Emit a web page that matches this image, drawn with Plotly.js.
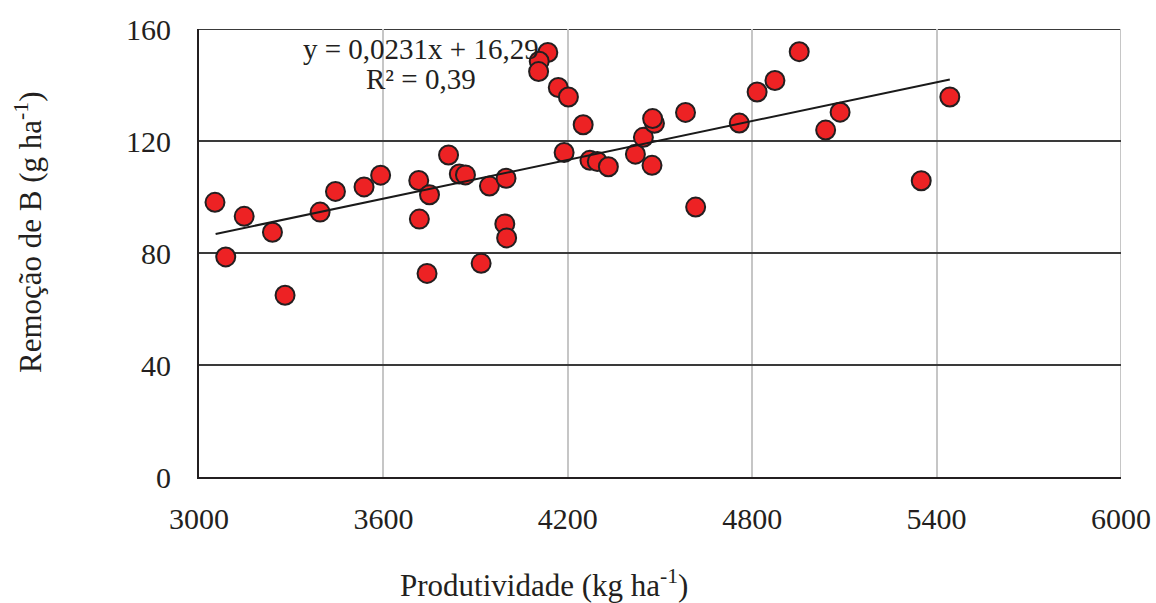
<!DOCTYPE html>
<html>
<head>
<meta charset="utf-8">
<script src="https://cdn.plot.ly/plotly-3.0.1.min.js"></script>
<style>html,body{margin:0;padding:0;background:#fff;}#chart{width:1156px;height:603px;}</style>
</head>
<body>
<div id="chart"></div>
<script>
// Observed data (Produtividade kg/ha vs Remoção de B g/ha)
const produtividade = [3052, 3087, 3147, 3239, 3280, 3394, 3444, 3537, 3591, 3715,
  3750, 3717, 3742, 3812, 3847, 3867, 3945, 3918, 3999, 3995,
  4001, 4135, 4107, 4105, 4169, 4202, 4250, 4188, 4272, 4296,
  4332, 4420, 4446, 4482, 4476, 4474, 4616, 4583, 4758, 4816,
  4874, 4953, 5086, 5039, 5350, 5443];
const remocaoB = [98.1, 78.6, 93.1, 87.4, 64.9, 94.6, 102.0, 103.6, 107.8, 105.9,
  100.8, 92.1, 72.7, 115.0, 108.2, 107.9, 103.9, 76.3, 106.7, 90.4,
  85.4, 151.6, 148.5, 144.8, 139.1, 135.7, 125.8, 115.9, 113.1, 112.7,
  110.8, 115.3, 121.3, 126.3, 128.0, 111.3, 96.4, 130.2, 126.4, 137.5,
  141.6, 151.9, 130.3, 123.9, 105.8, 135.7];
// Linear trend endpoints (y = 0,0231x + 16,29)
const trendX = [3054, 5443];
const trendY = [86.8, 142.0];
const xTicks = [3000, 3600, 4200, 4800, 5400, 6000];
const yTicks = [0, 40, 80, 120, 160];
const eqText = "y = 0,0231x + 16,29";
const r2Text = "R² = 0,39";
const xTitle = "Produtividade (kg ha<sup>-1</sup>)";
const yTitle = "Remoção de B (g ha<sup>-1</sup>)";

const FONT = "Liberation Serif, Times New Roman, serif";
const INK = '#231F20';

const traces = [
  {
    x: produtividade, y: remocaoB, type: 'scatter', mode: 'markers',
    marker: {size: 19, color: '#ED2224', line: {color: INK, width: 2}},
    hoverinfo: 'x+y', showlegend: false
  },
  {
    x: trendX, y: trendY, type: 'scatter', mode: 'lines',
    line: {color: '#1a1a1a', width: 2}, hoverinfo: 'skip', showlegend: false
  }
];

const layout = {
  width: 1156, height: 603,
  margin: {l: 199, r: 35, t: 29, b: 126},
  paper_bgcolor: '#fff', plot_bgcolor: '#fff',
  font: {family: FONT, size: 28, color: INK},
  xaxis: {
    range: [3000, 6000], tickvals: xTicks, ticktext: xTicks.map(String),
    showgrid: true, gridcolor: '#C6C6C6', gridwidth: 2,
    showline: true, linecolor: INK, linewidth: 2,
    zeroline: false, ticks: 'outside', ticklen: 14, tickcolor: 'rgba(0,0,0,0)',
    tickfont: {family: FONT, size: 30, color: INK}, fixedrange: true
  },
  yaxis: {
    range: [0, 160], tickvals: yTicks, ticktext: yTicks.map(String),
    showgrid: true, gridcolor: '#3A3A3A', gridwidth: 2,
    showline: true, linecolor: INK, linewidth: 2,
    zeroline: false, ticks: 'outside', ticklen: 20, tickcolor: 'rgba(0,0,0,0)',
    tickfont: {family: FONT, size: 30, color: INK}, fixedrange: true
  },
  shapes: [
    {type: 'line', xref: 'paper', yref: 'y', x0: 0, x1: 1, y0: 160, y1: 160,
     line: {color: '#3A3A3A', width: 2}, layer: 'below'},
    {type: 'line', xref: 'x', yref: 'paper', x0: 6000, x1: 6000, y0: 0, y1: 1,
     line: {color: '#C6C6C6', width: 2}, layer: 'below'}
  ],
  annotations: [
    {x: 3722, y: 153, xref: 'x', yref: 'y', text: eqText, showarrow: false,
     font: {family: FONT, size: 29, color: INK}, xanchor: 'center', yanchor: 'middle'},
    {x: 3722, y: 142.2, xref: 'x', yref: 'y', text: r2Text, showarrow: false,
     font: {family: FONT, size: 29, color: INK}, xanchor: 'center', yanchor: 'middle'},
    {x: (544 - 199) / 922, y: (477 - 583) / 448, xref: 'paper', yref: 'paper', text: xTitle, showarrow: false,
     font: {family: FONT, size: 31, color: INK}, xanchor: 'center', yanchor: 'middle'},
    {x: (28 - 199) / 922, y: (477 - 232) / 448, xref: 'paper', yref: 'paper', text: yTitle, showarrow: false, textangle: -90,
     font: {family: FONT, size: 31, color: INK}, xanchor: 'center', yanchor: 'middle'}
  ]
};

Plotly.newPlot('chart', traces, layout, {displayModeBar: false, staticPlot: true});
</script>
</body>
</html>
